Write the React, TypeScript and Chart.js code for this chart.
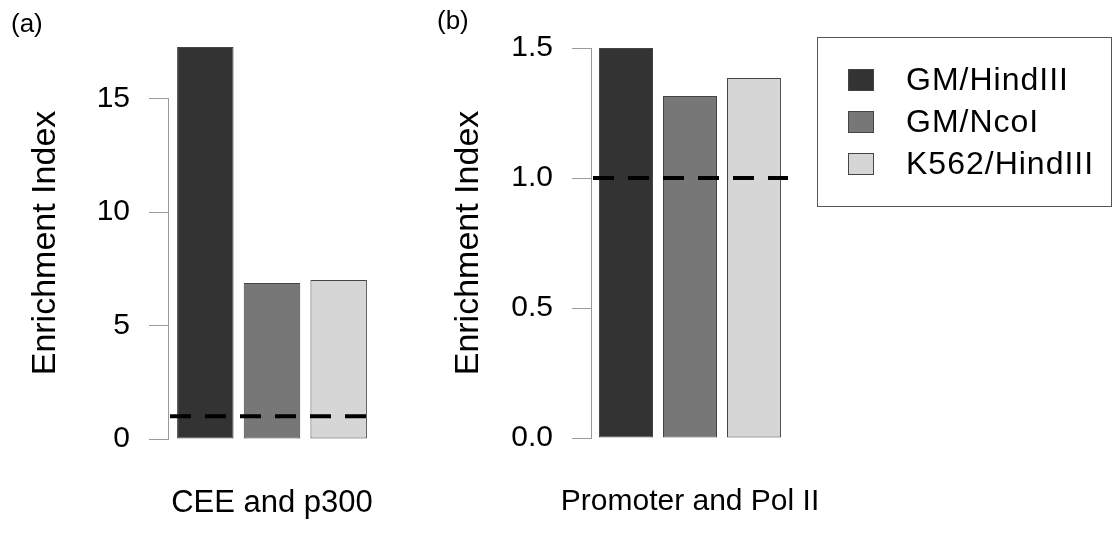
import React, { useEffect, useRef } from "react";
import { Chart, registerables } from "chart.js";

Chart.register(...registerables);

const FONT = '"Liberation Sans", Arial, Helvetica, sans-serif';

const seriesNames = ["GM/HindIII", "GM/NcoI", "K562/HindIII"];
const seriesColors = ["#333333", "#777777", "#d6d6d6"];
const barBorderColor = "#444444";

const panelALabel = "(a)";
const panelACategories = ["CEE and p300"];
const panelAValues = [17.27, 6.87, 7.0];
const panelATicks = [0, 5, 10, 15];

const panelBLabel = "(b)";
const panelBCategories = ["Promoter and Pol II"];
const panelBValues = [1.5, 1.315, 1.385];
const panelBTicks = [0, 0.5, 1.0, 1.5];

const referenceLevel = 1;
const yAxisTitle = "Enrichment Index";

type PanelProps = {
  left: number;
  width: number;
  label: string;
  labelX: number;
  labelY: number;
  categories: string[];
  values: number[];
  ticks: number[];
  decimals: number;
  padTop: number;
  padRight: number;
  xAxisHeight: number;
  catPct: number;
  barPct: number;
  tickPad: number;
  catFontSize: number;
  showLegend: boolean;
};

function makeDecorPlugin(p: PanelProps) {
  return {
    id: "panelDecor",
    afterDatasetsDraw(chart: any) {
      const { ctx, chartArea, scales } = chart;
      const y = scales.y;
      ctx.save();
      // R-style axis line spanning first to last tick
      const ax = Math.round(chartArea.left) - 0.5;
      ctx.strokeStyle = "#9a9a9a";
      ctx.lineWidth = 1;
      ctx.beginPath();
      ctx.moveTo(ax, y.getPixelForValue(p.ticks[0]));
      ctx.lineTo(ax, y.getPixelForValue(p.ticks[p.ticks.length - 1]));
      ctx.stroke();

      // dashed reference line
      const ry = y.getPixelForValue(referenceLevel);
      ctx.strokeStyle = "#000";
      ctx.lineWidth = 4;
      ctx.lineCap = "butt";
      ctx.setLineDash([21, 14]);
      ctx.beginPath();
      ctx.moveTo(chartArea.left + 1, ry);
      ctx.lineTo(chartArea.right, ry);
      ctx.stroke();
      ctx.setLineDash([]);

      // panel label
      ctx.fillStyle = "#000";
      ctx.font = `26px ${FONT}`;
      ctx.textAlign = "left";
      ctx.textBaseline = "middle";
      ctx.fillText(p.label, p.labelX, p.labelY);

      if (p.showLegend) {
        const bx = 394.5;
        const by = 37.5;
        ctx.strokeStyle = "#555";
        ctx.lineWidth = 1;
        ctx.strokeRect(bx, by, 294, 169);
        ctx.font = `32px ${FONT}`;
        try {
          (ctx as any).letterSpacing = "1px";
        } catch (e) {}
        seriesNames.forEach((name, i) => {
          const cy = 80 + i * 42;
          ctx.fillStyle = seriesColors[i];
          ctx.fillRect(425, cy - 11, 26, 22);
          ctx.strokeStyle = barBorderColor;
          ctx.strokeRect(425.5, cy - 10.5, 25, 21);
          ctx.fillStyle = "#000";
          ctx.fillText(name, 483, cy + 1);
        });
      }
      ctx.restore();
    },
  };
}

function Panel(p: PanelProps) {
  const ref = useRef<HTMLCanvasElement>(null);
  useEffect(() => {
    if (!ref.current) return;
    const chart = new Chart(ref.current, {
      type: "bar",
      data: {
        labels: p.categories,
        datasets: seriesNames.map((name, i) => ({
          label: name,
          data: [p.values[i]],
          backgroundColor: seriesColors[i],
          borderColor: barBorderColor,
          borderWidth: 1,
          borderSkipped: false,
          barPercentage: p.barPct,
          categoryPercentage: p.catPct,
        })),
      },
      options: {
        animation: false,
        responsive: false,
        maintainAspectRatio: false,
        layout: { padding: { top: p.padTop, right: p.padRight, left: 0, bottom: 0 } },
        plugins: {
          legend: { display: false },
          tooltip: { enabled: false },
          title: { display: false },
        },
        scales: {
          x: {
            type: "category",
            grid: { display: false, drawTicks: false },
            border: { display: false },
            ticks: { padding: p.tickPad, color: "#000", font: { family: FONT, size: p.catFontSize } },
            afterFit: (s: any) => {
              s.height = p.xAxisHeight;
            },
          },
          y: {
            min: 0,
            max: Math.max(...p.values),
            grid: {
              display: true,
              drawOnChartArea: false,
              drawTicks: true,
              tickLength: 20,
              color: "#9a9a9a",
              lineWidth: 1,
            },
            border: { display: false },
            ticks: {
              padding: 19,
              color: "#000",
              font: { family: FONT, size: 30 },
              callback: (v: any) => Number(v).toFixed(p.decimals),
            },
            afterBuildTicks: (s: any) => {
              s.ticks = p.ticks.map((v) => ({ value: v }));
            },
            afterFit: (s: any) => {
              s.width = 169;
            },
            title: {
              display: true,
              text: yAxisTitle,
              color: "#000",
              font: { family: FONT, size: 34 },
              padding: { top: 25, bottom: 0 },
            },
          },
        },
      },
      plugins: [makeDecorPlugin(p)],
    } as any);
    return () => chart.destroy();
  }, []);
  return (
    <canvas
      ref={ref}
      width={p.width}
      height={535}
      style={{ position: "absolute", left: p.left, top: 0, width: p.width, height: 535 }}
    />
  );
}

export default function App() {
  return (
    <div style={{ position: "absolute", left: 0, top: 0, width: 1112, height: 535, background: "#fff" }}>
      <Panel
        left={0}
        width={560}
        label={panelALabel}
        labelX={11}
        labelY={25}
        categories={panelACategories}
        values={panelAValues}
        ticks={panelATicks}
        decimals={0}
        padTop={47}
        padRight={185}
        xAxisHeight={96}
        catPct={0.971}
        barPct={0.847}
        tickPad={46}
        catFontSize={31}
        showLegend={false}
      />
      <Panel
        left={423}
        width={689}
        label={panelBLabel}
        labelX={14}
        labelY={22}
        categories={panelBCategories}
        values={panelBValues}
        ticks={panelBTicks}
        decimals={1}
        padTop={48}
        padRight={324}
        xAxisHeight={97}
        catPct={0.98}
        barPct={0.844}
        tickPad={46}
        catFontSize={30}
        showLegend={true}
      />
    </div>
  );
}
